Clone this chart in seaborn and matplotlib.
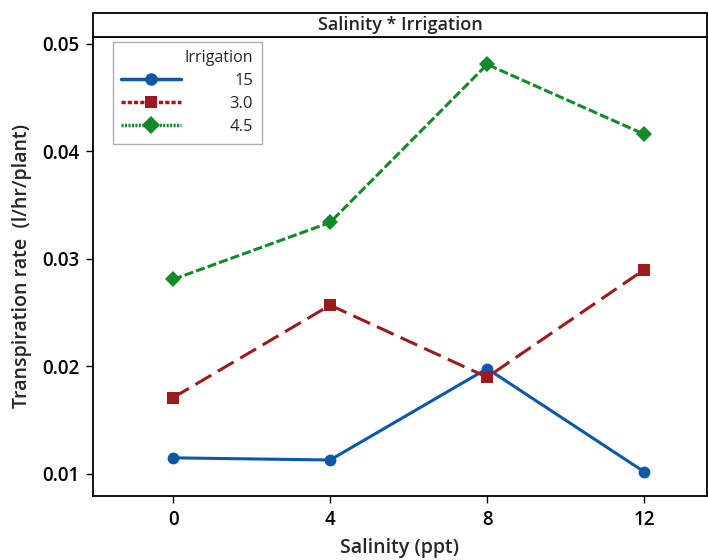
import numpy as np
import pandas as pd
import matplotlib
matplotlib.use("Agg")
import matplotlib.pyplot as plt
from matplotlib.lines import Line2D
from matplotlib.patches import Rectangle
import seaborn as sns

salinity = [0, 4, 8, 12]
irrigation = ["15", "3.0", "4.5"]
rate_15 = [0.0115, 0.0113, 0.0198, 0.0102]
rate_30 = [0.0171, 0.0257, 0.0190, 0.0290]
rate_45 = [0.0281, 0.0334, 0.0481, 0.0416]

df = pd.DataFrame({
    "Salinity": salinity * 3,
    "Irrigation": [irrigation[0]] * 4 + [irrigation[1]] * 4 + [irrigation[2]] * 4,
    "Rate": rate_15 + rate_30 + rate_45,
})

sns.set_style("ticks")
plt.rcParams["font.family"] = ["Open Sans", "DejaVu Sans"]

colors = {"15": "#0b57a8", "3.0": "#9b1b1e", "4.5": "#118a2a"}
markers = {"15": "o", "3.0": "s", "4.5": "D"}
dashes = {"15": "", "3.0": (6, 2.5), "4.5": (3, 1)}

fig = plt.figure(figsize=(7.08, 5.6), dpi=100)
ax = fig.add_axes([93/708, 1-496/560, 614/708, (496-37)/560])

sns.lineplot(data=df, x="Salinity", y="Rate", hue="Irrigation", style="Irrigation",
             palette=colors, markers=markers, dashes=dashes, markersize=8.5,
             linewidth=2.2, markeredgewidth=0, legend=False, ax=ax)

ax.set_xlim(-2.04, 13.6)
ax.set_ylim(0.00795, 0.05065)
ax.set_xticks(salinity)
ax.set_xticklabels([str(s) for s in salinity])
ax.set_yticks([0.01, 0.02, 0.03, 0.04, 0.05])
ax.set_yticklabels(["0.01", "0.02", "0.03", "0.04", "0.05"])
ax.tick_params(labelsize=13.5, length=5, width=1, colors="black", pad=5)
for t in ax.get_xticklabels() + ax.get_yticklabels():
    t.set_fontweight("semibold")
ax.set_xlabel("Salinity (ppt)", fontsize=14, fontweight="semibold", labelpad=6)
ax.set_ylabel("Transpiration rate  (l/hr/plant)", fontsize=14, fontweight="semibold", labelpad=7)
for s in ax.spines.values():
    s.set_linewidth(1.3)
    s.set_color("black")

# title band
fig.patches.append(Rectangle((93/708, 1-37/560), 614/708, 24/560, transform=fig.transFigure,
                             facecolor="white", edgecolor="black", linewidth=1.3))
fig.text((93+707)/2/708, 1-25/560, "Salinity * Irrigation", ha="center", va="center",
         fontsize=13, fontweight="semibold")

handles = [Line2D([0], [0], color=colors[k], marker=markers[k], markersize=9,
                  markeredgewidth=0, linewidth=2.5,
                  linestyle="-" if k == "15" else ((0, (1.2, 0.6)) if k == "3.0" else (0, (0.6, 0.4))))
           for k in irrigation]
leg = ax.legend(handles, irrigation, title="Irrigation", loc="upper left",
                bbox_to_anchor=(20/614, 1-5/459), borderaxespad=0, fontsize=12, title_fontsize=11.5,
                frameon=True, fancybox=False, handlelength=3.6, handletextpad=2.9,
                alignment="right", borderpad=0.5, labelspacing=0.42)
leg.get_frame().set_edgecolor("#999999")
leg.get_frame().set_linewidth(1)
fig.canvas.draw()
renderer = fig.canvas.get_renderer()
widths = [t.get_window_extent(renderer).width for t in leg.get_texts()]
wmax = max(widths)
for t, w in zip(leg.get_texts(), widths):
    t.set_x(wmax - w)
fig.savefig("out.png", dpi=100)
